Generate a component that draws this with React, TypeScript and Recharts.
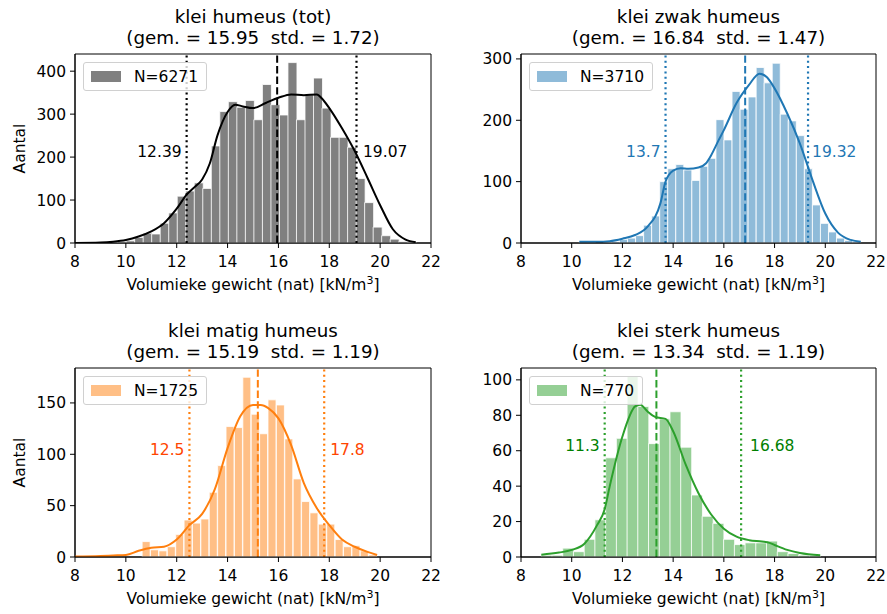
import React from "react";
import { ComposedChart, Bar, Line, XAxis, YAxis, ReferenceLine, ReferenceDot, ReferenceArea } from "recharts";

const FONT = '"DejaVu Sans", Verdana, sans-serif';
const xTicks = [8, 10, 12, 14, 16, 18, 20, 22];

// klei humeus (tot)
const totBinStart = 8.0;
const totBinWidth = 0.335;
const totCounts = [1, 0, 1, 1, 2, 3, 5, 13, 23, 21, 46, 70, 109, 121, 140, 127, 226, 306, 329, 316, 332, 287, 369, 322, 298, 420, 287, 345, 384, 314, 246, 246, 223, 150, 94, 37, 17, 9, 3, 1];
const totKdeX = [8, 9, 9.5, 10, 10.5, 11, 11.5, 12, 12.4, 12.7, 13, 13.3, 13.6, 14, 14.3, 14.6, 15, 15.5, 16, 16.5, 17, 17.5, 17.8, 18, 18.5, 19, 19.5, 20, 20.5, 21, 21.4];
const totKdeY = [0, 1, 3, 7, 15, 27, 46, 80, 113, 130, 148, 185, 250, 305, 322, 318, 314, 326, 338, 346, 344, 346, 330, 314, 267, 214, 152, 88, 32, 8, 2];

// klei zwak humeus
const zwakBinStart = 10.3;
const zwakBinWidth = 0.317;
const zwakCounts = [2, 1, 0, 1, 2, 6, 8, 12, 29, 44, 100, 121, 128, 119, 102, 125, 138, 201, 168, 247, 218, 238, 286, 261, 293, 210, 199, 175, 121, 62, 32, 18, 8, 4, 2];
const zwakKdeX = [10.3, 11, 11.5, 12, 12.5, 13, 13.5, 13.7, 14, 14.3, 14.6, 15, 15.3, 15.5, 15.8, 16, 16.5, 17, 17.4, 17.7, 18, 18.5, 19, 19.5, 20, 20.5, 21, 21.4];
const zwakKdeY = [2, 2, 3, 7, 13, 27, 65, 100, 118, 122, 121, 123, 130, 143, 168, 184, 228, 258, 276, 270, 252, 211, 162, 102, 48, 17, 5, 2];

// klei matig humeus
const matigBinStart = 8.0;
const matigBinWidth = 0.33;
const matigCounts = [1, 0, 0, 0, 0, 0, 0, 0, 15, 7, 6, 10, 22, 36, 33, 37, 63, 89, 127, 126, 175, 139, 120, 153, 148, 115, 76, 54, 43, 32, 32, 17, 10, 11, 6, 2];
const matigKdeX = [8, 9, 9.5, 10, 10.5, 11, 11.5, 12, 12.5, 13, 13.5, 14, 14.5, 15, 15.3, 15.6, 16, 16.5, 17, 17.5, 18, 18.5, 19, 19.5, 19.88];
const matigKdeY = [0.5, 1, 1.5, 2, 6, 9, 10, 17, 31, 42, 66, 106, 137, 148, 148, 145, 135, 109, 72, 48, 31, 17, 10, 5, 2];

// klei sterk humeus
const sterkBinStart = 8.8;
const sterkBinWidth = 0.423;
const sterkCounts = [1, 1, 5, 3, 10, 21, 56, 67, 102, 85, 64, 78, 82, 62, 35, 23, 19, 10, 7, 8, 8, 9, 3, 2, 1, 1];
const sterkKdeX = [8.8, 9.5, 10, 10.5, 11, 11.3, 11.5, 12, 12.5, 12.7, 13, 13.3, 13.7, 14, 14.5, 15, 15.5, 16, 16.5, 17, 17.5, 17.8, 18, 18.5, 19, 19.8];
const sterkKdeY = [1.3, 2.5, 4, 7.5, 18, 27, 40, 68, 85, 86, 82, 79, 78, 71, 52, 36, 24, 16, 11.5, 9.5, 8.7, 8, 6.8, 4, 2.3, 1];

type Panel = {
  title: string;
  sub: string;
  n: number;
  binStart: number;
  binWidth: number;
  counts: number[];
  kdeX: number[];
  kdeY: number[];
  mean: number;
  lo: number;
  hi: number;
  yMax: number;
  yTicks: number[];
  labelY: number;
  bar: string;
  line: string;
  text: string;
  left: number;
  top: number;
  yAxisW: number;
  mTop: number;
  mBottom: number;
  mRight: number;
  yLabel: boolean;
  hiGap: number;
};

const panels: Panel[] = [
  {
    title: "klei humeus (tot)", sub: "(gem. = 15.95  std. = 1.72)", n: 6271,
    binStart: totBinStart, binWidth: totBinWidth, counts: totCounts, kdeX: totKdeX, kdeY: totKdeY,
    mean: 15.95, lo: 12.39, hi: 19.07, yMax: 440, yTicks: [0, 100, 200, 300, 400], labelY: 212,
    bar: "#808080", line: "#000000", text: "#000000",
    left: 0, top: 0, yAxisW: 75, mTop: 54, mBottom: 14, mRight: 12, yLabel: true, hiGap: 6.5,
  },
  {
    title: "klei zwak humeus", sub: "(gem. = 16.84  std. = 1.47)", n: 3710,
    binStart: zwakBinStart, binWidth: zwakBinWidth, counts: zwakCounts, kdeX: zwakKdeX, kdeY: zwakKdeY,
    mean: 16.84, lo: 13.7, hi: 19.32, yMax: 308, yTicks: [0, 100, 200, 300], labelY: 149,
    bar: "#8fbbd9", line: "#1f77b4", text: "#1f77b4",
    left: 443, top: 0, yAxisW: 78, mTop: 54, mBottom: 14, mRight: 10, yLabel: false, hiGap: 4,
  },
  {
    title: "klei matig humeus", sub: "(gem. = 15.19  std. = 1.19)", n: 1725,
    binStart: matigBinStart, binWidth: matigBinWidth, counts: matigCounts, kdeX: matigKdeX, kdeY: matigKdeY,
    mean: 15.19, lo: 12.5, hi: 17.8, yMax: 184, yTicks: [0, 50, 100, 150], labelY: 105,
    bar: "#ffbf86", line: "#ff7f0e", text: "#ff4500",
    left: 0, top: 307, yAxisW: 75, mTop: 61, mBottom: 7, mRight: 12, yLabel: true, hiGap: 6,
  },
  {
    title: "klei sterk humeus", sub: "(gem. = 13.34  std. = 1.19)", n: 770,
    binStart: sterkBinStart, binWidth: sterkBinWidth, counts: sterkCounts, kdeX: sterkKdeX, kdeY: sterkKdeY,
    mean: 13.34, lo: 11.3, hi: 16.68, yMax: 106.7, yTicks: [0, 20, 40, 60, 80, 100], labelY: 63,
    bar: "#95cf95", line: "#2ca02c", text: "#008000",
    left: 443, top: 307, yAxisW: 78, mTop: 61, mBottom: 7, mRight: 10, yLabel: false, hiGap: 9,
  },
];

const W = 443;
const H = 307;
const FS = 15.5;
const TFS = 18.3;

const xLabel = (props: any) => {
  const vb = props.viewBox;
  return (
    <text x={vb.x + vb.width / 2} y={vb.y + 47} textAnchor="middle" fontSize={FS} fill="#000" fontFamily={FONT}>
      Volumieke gewicht (nat) [kN/m<tspan dy={-6} fontSize={11}>3</tspan><tspan dy={6}>]</tspan>
    </text>
  );
};

const yLabel = (props: any) => {
  const vb = props.viewBox;
  const cx = vb.x + 20;
  const cy = vb.y + vb.height / 2;
  return (
    <text x={cx} y={cy} transform={`rotate(-90 ${cx} ${cy})`} textAnchor="middle" dominantBaseline="central" fontSize={FS} fill="#000" fontFamily={FONT}>
      Aantal
    </text>
  );
};

function Hist({ p }: { p: Panel }) {
  const bins = p.counts.map((c, i) => ({ x: p.binStart + p.binWidth * (i + 0.5), n: c }));
  const kde = p.kdeX.map((x, i) => ({ x, d: p.kdeY[i] }));
  const plotW = W - p.yAxisW - p.mRight;
  const cx = p.yAxisW + plotW / 2;
  const tick = { fontSize: FS, fill: "#000", fontFamily: FONT };
  const titleStyle: React.CSSProperties = {
    position: "absolute",
    left: cx - 200,
    width: 400,
    textAlign: "center",
    fontSize: TFS,
    lineHeight: `${TFS * 1.164}px`,
    whiteSpace: "pre",
  };
  return (
    <div style={{ position: "absolute", left: p.left, top: p.top, width: W, height: H }}>
      <div style={{ ...titleStyle, top: p.mTop - 31 - TFS * 0.928 }}>{p.title}</div>
      <div style={{ ...titleStyle, top: p.mTop - 10 - TFS * 0.928 }}>{p.sub}</div>
      <ComposedChart
        width={W}
        height={H}
        data={bins}
        barCategoryGap={0}
        barGap={0}
        margin={{ top: p.mTop, right: p.mRight, bottom: p.mBottom, left: 0 }}
      >
        <XAxis
          dataKey="x"
          type="number"
          domain={[8, 22]}
          ticks={xTicks}
          allowDataOverflow
          height={50}
          tickSize={5}
          tickMargin={8}
          tick={tick}
          stroke="#000"
          label={xLabel}
        />
        <XAxis xAxisId="kde" dataKey="x" type="number" domain={[8, 22]} allowDataOverflow hide />
        <YAxis
          type="number"
          domain={[0, p.yMax]}
          ticks={p.yTicks}
          allowDataOverflow
          width={p.yAxisW}
          tickSize={5}
          tickMargin={4}
          tick={tick}
          stroke="#000"
          label={p.yLabel ? yLabel : undefined}
        />
        <ReferenceArea x1={8} x2={22} y1={0} y2={p.yMax} fill="none" stroke="#000" strokeWidth={1} />
        <Bar dataKey="n" fill={p.bar} stroke="#ffffff" strokeWidth={0.8} isAnimationActive={false} />
        <Line
          xAxisId="kde"
          data={kde}
          dataKey="d"
          type="monotone"
          stroke={p.line}
          strokeWidth={2}
          dot={false}
          isAnimationActive={false}
        />
        <ReferenceLine x={p.mean} stroke={p.line} strokeWidth={2} strokeDasharray="7.4 3.2" />
        <ReferenceLine x={p.lo} stroke={p.line} strokeWidth={2.2} strokeDasharray="2 3.3" />
        <ReferenceLine x={p.hi} stroke={p.line} strokeWidth={2.2} strokeDasharray="2 3.3" />
        <ReferenceDot
          x={p.lo}
          y={p.labelY}
          r={0}
          fill="none"
          stroke="none"
          label={{ value: String(p.lo), position: "left", offset: 5, fill: p.text, fontSize: FS, fontFamily: FONT }}
        />
        <ReferenceDot
          x={p.hi}
          y={p.labelY}
          r={0}
          fill="none"
          stroke="none"
          label={{ value: String(p.hi), position: "right", offset: p.hiGap, fill: p.text, fontSize: FS, fontFamily: FONT }}
        />
      </ComposedChart>
      <div
        style={{
          position: "absolute",
          left: p.yAxisW + 8,
          top: p.mTop + 8,
          height: 27,
          padding: "0 8px 0 7px",
          display: "flex",
          alignItems: "center",
          background: "rgba(255,255,255,0.8)",
          border: "1px solid #d0d0d0",
          borderRadius: 3,
          fontSize: FS,
        }}
      >
        <span style={{ display: "inline-block", width: 30, height: 11, background: p.bar, marginRight: 13 }} />
        <span>N={p.n}</span>
      </div>
    </div>
  );
}

export default function App() {
  return (
    <div style={{ position: "absolute", left: 0, top: 0, width: 887, height: 614, background: "#fff", fontFamily: FONT, color: "#000" }}>
      {panels.map((p) => (
        <Hist key={p.title} p={p} />
      ))}
    </div>
  );
}
